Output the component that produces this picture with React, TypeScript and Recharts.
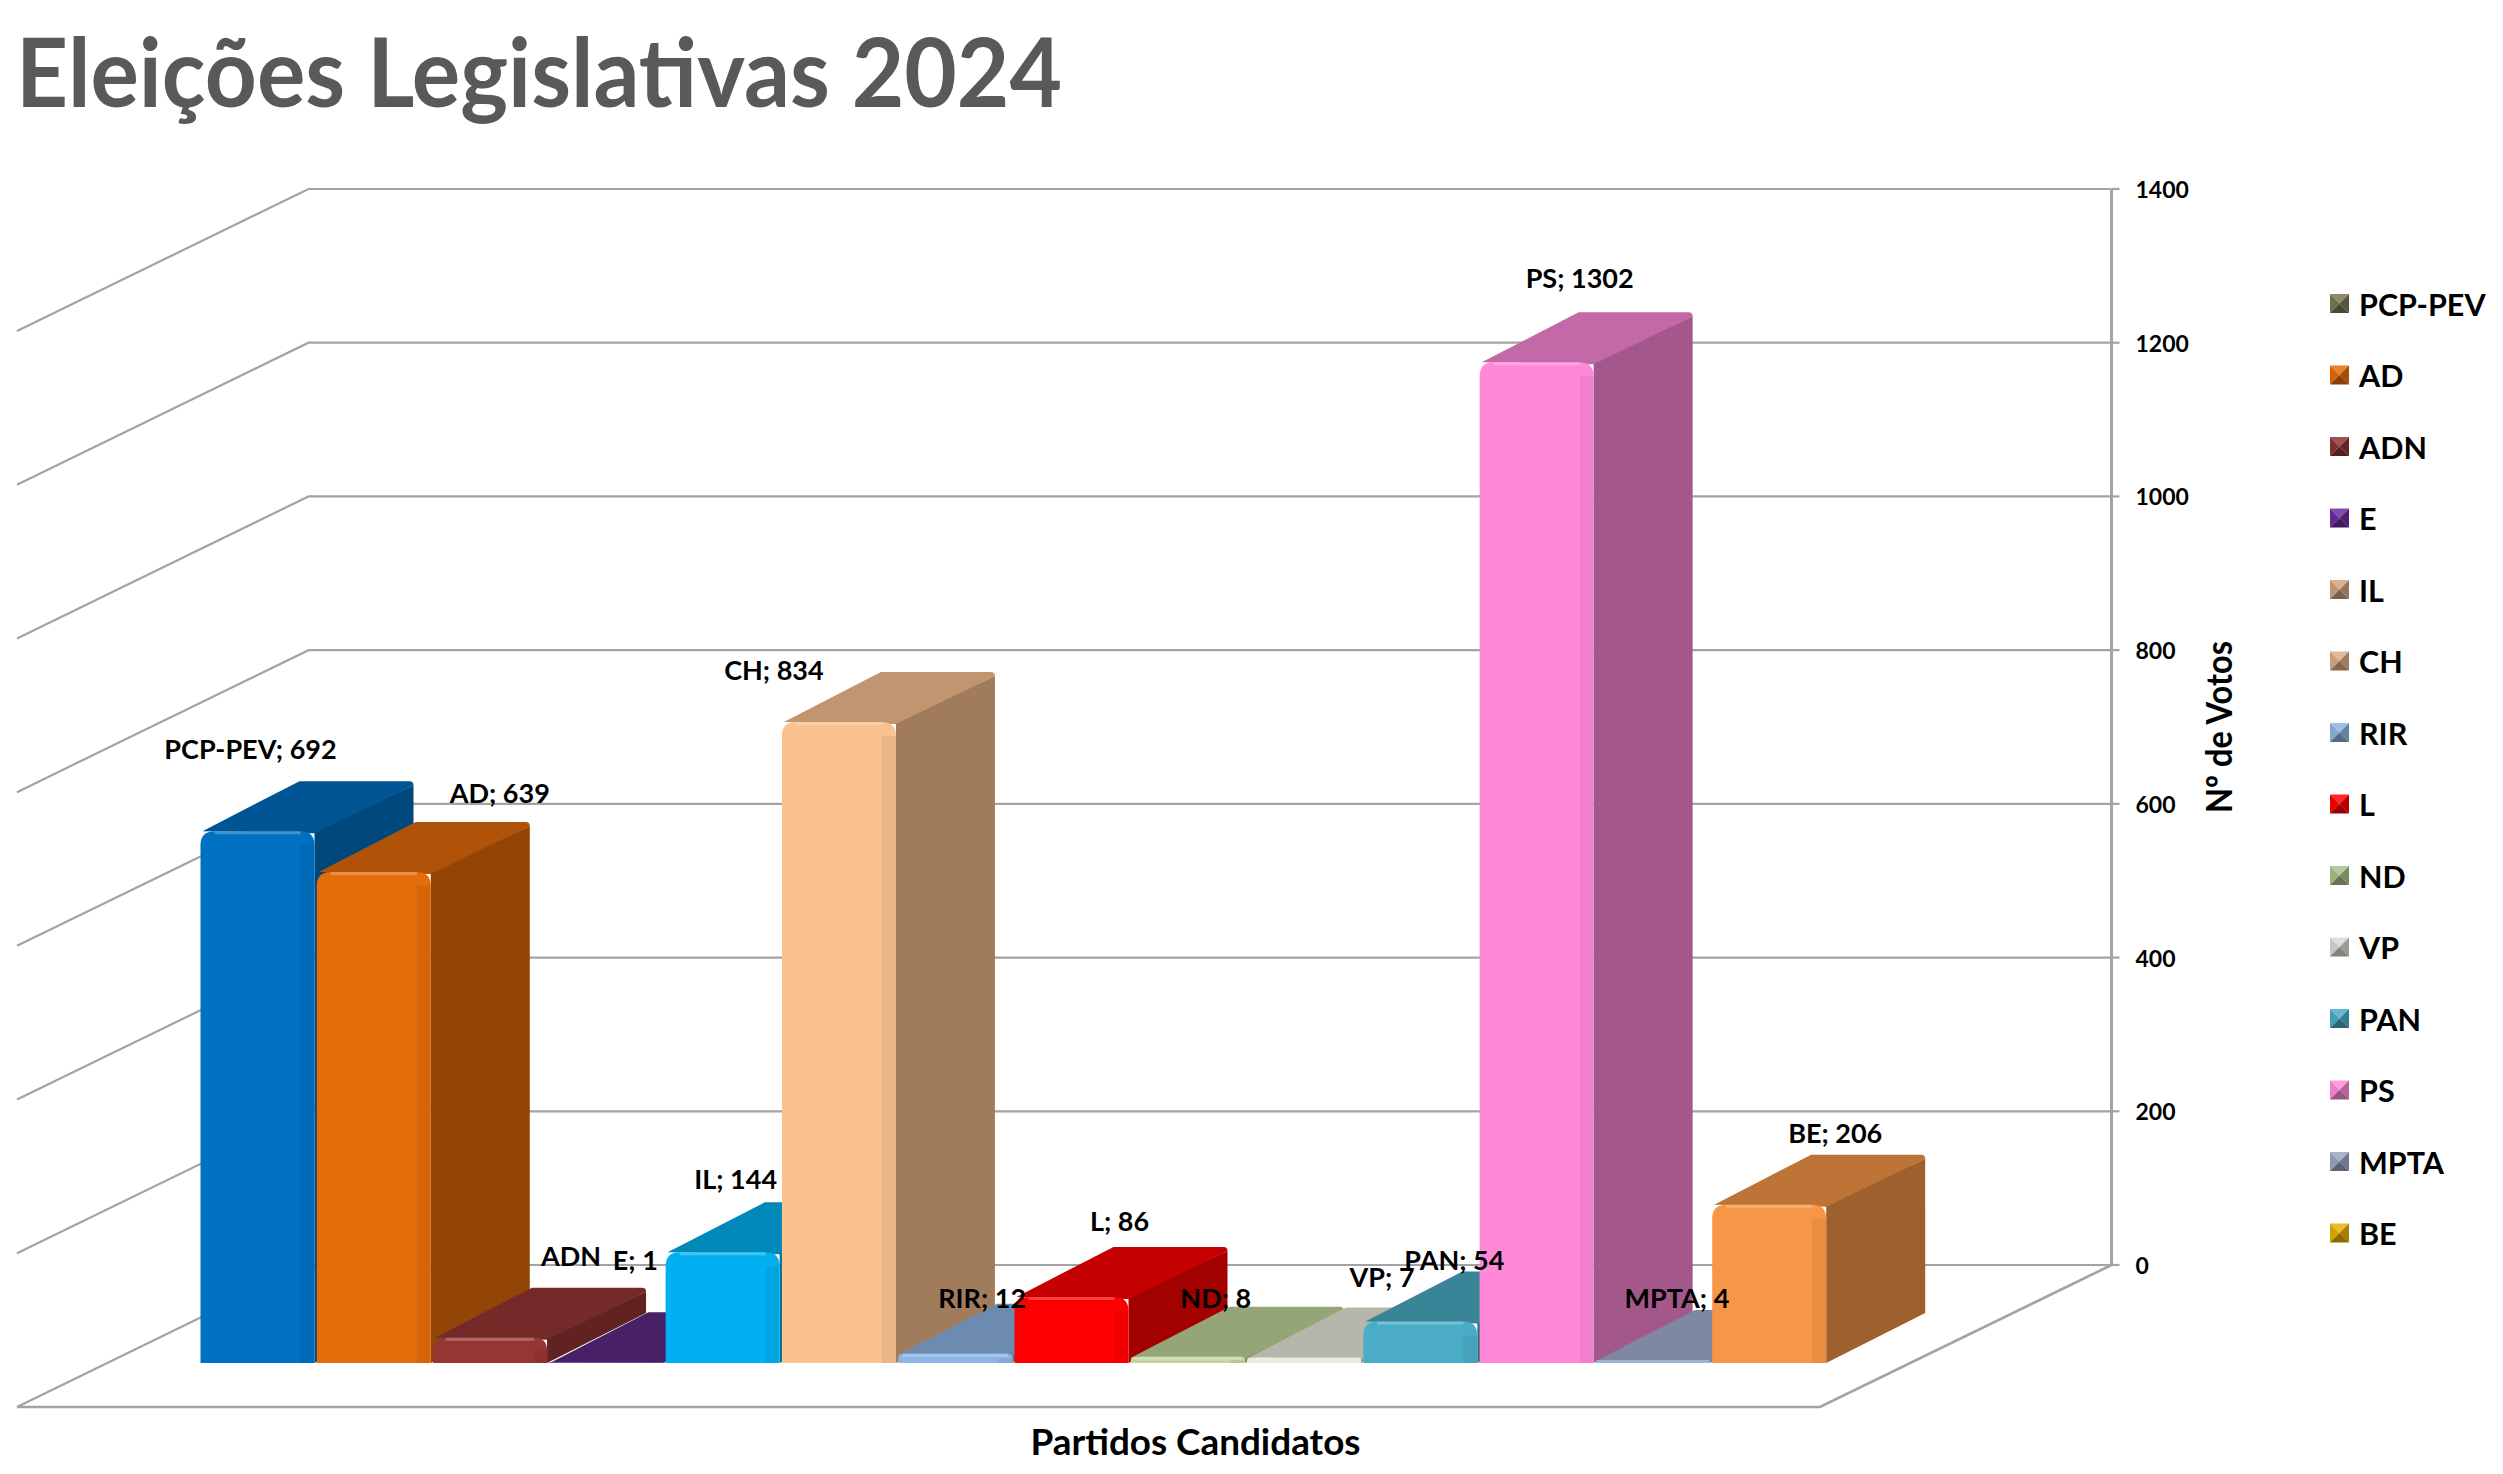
import React from 'react';
import { BarChart, Bar, XAxis, YAxis, CartesianGrid, Legend, LabelList } from 'recharts';

// ---------- data ----------
const parties = ['PCP-PEV', 'AD', 'ADN', 'E', 'IL', 'CH', 'RIR', 'L', 'ND', 'VP', 'PAN', 'PS', 'MPTA', 'BE'];
const votes = [692, 639, 33, 1, 144, 834, 12, 86, 8, 7, 54, 1302, 4, 206];
const labelShowsValue = [true, true, false, true, true, true, true, true, true, true, true, true, true, true];
const yTicks = [0, 200, 400, 600, 800, 1000, 1200, 1400];
const chartTitle = 'Eleições Legislativas 2024';
const xTitle = 'Partidos Candidatos';
const yTitle = 'Nº de Votos';

// ---------- styles ----------
const barColors = ['#0070C2', '#E46C0A', '#963634', '#5C2A84', '#00B0F0', '#FAC191', '#8DB4E2', '#FF0000', '#C3D69B', '#EEECE1', '#4BACC6', '#FF88D9', '#A3B1D1', '#F79646'];
const legendColors = ['#7A7850', '#E46C0A', '#8C3434', '#6A2D9C', '#CFA27E', '#DDAA84', '#8DB4E2', '#FF0000', '#A9C08A', '#D9D9D2', '#4BACC6', '#FF88D9', '#98A6C4', '#E6B000'];
// label nudges relative to the top-centre of each bar's front face (px)
const labelOffsets: [number, number][] = [
  [-7, -83], [126, -79], [81, -82], [29, -103], [13, -74], [-65, -53], [27, -56],
  [48, -76], [28, -59], [78, -81], [34, -62], [43, -85], [24, -62], [66, -72],
];

const W = 2503;
const H = 1474;
const PLOT_LEFT = 112;
const PLOT_RIGHT = 1915;
const PLOT_TOP = 287;
const PLOT_BOTTOM = 1363;
const Y_AXIS_W = 100;
const X_AXIS_H = 60;
const BACK = { dx: 196.5, dy: -98 }; // back wall relative to bar front plane
const FRONT = { dx: -95, dy: 44 }; // floor front edge relative to bar front plane
const BAR_DEPTH = { dx: 99, dy: -50 };
const GRID_COLOR = '#A3A3A3';
const FONT = 'Lato, "Noto Sans", "DejaVu Sans", sans-serif';

const data = parties.map((party, i) => ({ party, votes: votes[i] }));

const shade = (hex: string, k: number) => {
  const n = parseInt(hex.slice(1), 16);
  const f = (v: number) => {
    const c = k <= 1 ? v * k : v + (255 - v) * (k - 1);
    return Math.max(0, Math.min(255, Math.round(c))).toString(16).padStart(2, '0');
  };
  return `#${f((n >> 16) & 255)}${f((n >> 8) & 255)}${f(n & 255)}`;
};

const idxOf = (props: any) => {
  if (typeof props.index === 'number') return props.index;
  const p = props.payload?.party ?? props.party;
  return Math.max(0, parties.indexOf(p));
};

const Bar3D = (props: any) => {
  const { x, y, width, height } = props;
  const i = idxOf(props);
  const c = barColors[i];
  const h = Math.max(0, height);
  const w = width;
  const { dx, dy } = BAR_DEPTH;
  const r = Math.min(14, h / 2);
  const front = `M${x},${y + h} L${x},${y + r} Q${x},${y} ${x + r},${y} L${x + w - r},${y} Q${x + w},${y} ${x + w},${y + r} L${x + w},${y + h} Z`;
  const top = `M${x + 2},${y} L${x + dx},${y + dy} L${x + w + dx - 4},${y + dy} Q${x + w + dx},${y + dy} ${x + w + dx},${y + dy + 4} L${x + w},${y + Math.min(r, 2)} Z`;
  const side = `M${x + w},${y} L${x + w + dx},${y + dy + 4} L${x + w + dx},${y + h + dy} L${x + w},${y + h} Z`;
  return (
    <g>
      <path d={side} fill={shade(c, 0.64)} />
      <path d={top} fill={shade(c, 0.77)} />
      <path d={front} fill={c} />
      {h > 6 && <rect x={x + w - 14} y={y + r} width={14} height={Math.max(0, h - r)} fill="#000" opacity={0.06} />}
      {h > 6 && <path d={`M${x + r},${y + 1.5} L${x + w - r},${y + 1.5}`} stroke="#fff" strokeOpacity={0.25} strokeWidth={3} />}
    </g>
  );
};

const BarLabel = (props: any) => {
  const { x, y, width, value } = props;
  let i = typeof props.index === 'number' ? props.index : votes.indexOf(value);
  if (i < 0) i = 0;
  const [ox, oy] = labelOffsets[i];
  const text = labelShowsValue[i] ? `${parties[i]}; ${value}` : parties[i];
  return (
    <text x={x + width / 2 + ox} y={y + oy} textAnchor="middle" dominantBaseline="central"
      fontFamily={FONT} fontWeight={700} fontSize={27} fill="#000">{text}</text>
  );
};

const GridLine = (props: any) => {
  const { x1, x2, y1, index } = props;
  const top = typeof props.y === 'number' ? props.y : PLOT_TOP;
  const bottom = typeof props.height === 'number' ? top + props.height : PLOT_BOTTOM;
  const d = `M${x1 + FRONT.dx},${y1 + FRONT.dy} L${x1 + BACK.dx},${y1 + BACK.dy} L${x2 + BACK.dx},${y1 + BACK.dy}`;
  return (
    <g key={`gl-${index}`}>
      <path d={d} fill="none" stroke={GRID_COLOR} strokeWidth={2.2} />
      {Math.abs(y1 - bottom) < 0.5 && (
        <path d={`M${x1 + FRONT.dx},${y1 + FRONT.dy} L${x2 + FRONT.dx},${y1 + FRONT.dy} L${x2 + BACK.dx},${y1 + BACK.dy}`}
          fill="none" stroke={GRID_COLOR} strokeWidth={2.6} />
      )}
      {Math.abs(y1 - top) < 0.5 && (
        <path d={`M${x2 + BACK.dx},${y1 + BACK.dy} L${x2 + BACK.dx},${bottom + BACK.dy}`}
          fill="none" stroke={GRID_COLOR} strokeWidth={3} />
      )}
    </g>
  );
};

const YTick = (props: any) => {
  const { x, y, payload } = props;
  const bx = x + BACK.dx;
  const by = y + BACK.dy;
  return (
    <g>
      <line x1={bx} y1={by} x2={bx + 8} y2={by} stroke={GRID_COLOR} strokeWidth={2.2} />
      <text x={bx + 24} y={by} dominantBaseline="central" fontFamily={FONT} fontWeight={700} fontSize={23} fill="#000">
        {payload.value}
      </text>
    </g>
  );
};

const XTitle = (props: any) => {
  const vb = props.viewBox || { x: PLOT_LEFT, y: PLOT_BOTTOM, width: PLOT_RIGHT - PLOT_LEFT, height: X_AXIS_H };
  const cx = vb.x + vb.width / 2 + 182;
  const cy = vb.y + 77;
  return (
    <text x={cx} y={cy} textAnchor="middle" dominantBaseline="central" fontFamily={FONT} fontWeight={700}
      fontSize={37} fill="#000" textLength={330} lengthAdjust="spacingAndGlyphs">{xTitle}</text>
  );
};

const YTitle = (props: any) => {
  const vb = props.viewBox || { x: PLOT_RIGHT, y: PLOT_TOP, width: Y_AXIS_W, height: PLOT_BOTTOM - PLOT_TOP };
  const cx = vb.x + 303;
  const cy = vb.y + vb.height / 2 + BACK.dy;
  return (
    <text x={cx} y={cy} transform={`rotate(-90 ${cx} ${cy})`} textAnchor="middle" dominantBaseline="central"
      fontFamily={FONT} fontWeight={700} fontSize={36} fill="#000" textLength={172} lengthAdjust="spacingAndGlyphs">{yTitle}</text>
  );
};

const LegendIcon = ({ x, y, s, c }: { x: number; y: number; s: number; c: string }) => {
  const cx = x + s / 2;
  const cy = y + s / 2;
  return (
    <g>
      <polygon points={`${x},${y} ${x + s},${y} ${cx},${cy}`} fill={shade(c, 1.15)} />
      <polygon points={`${x},${y} ${cx},${cy} ${x},${y + s}`} fill={shade(c, 0.92)} />
      <polygon points={`${x + s},${y} ${x + s},${y + s} ${cx},${cy}`} fill={shade(c, 0.72)} />
      <polygon points={`${x},${y + s} ${cx},${cy} ${x + s},${y + s}`} fill={shade(c, 0.6)} />
    </g>
  );
};

const LegendContent = () => (
  <svg width={183} height={1000} style={{ overflow: 'visible', display: 'block' }}>
    {parties.map((p, i) => {
      const cy = 23.5 + i * 71.5;
      return (
        <g key={p}>
          <LegendIcon x={10} y={cy - 9.5} s={19} c={legendColors[i]} />
          <text x={39} y={cy} dominantBaseline="central" fontFamily={FONT} fontWeight={700} fontSize={30.5} fill="#000">{p}</text>
        </g>
      );
    })}
  </svg>
);

export default function App() {
  return (
    <div style={{ position: 'relative', width: W, height: H, background: '#fff', overflow: 'hidden' }}>
      <style>{`body{margin:0;background:#fff;}`}</style>
      <BarChart
        width={W}
        height={H}
        data={data}
        margin={{ top: PLOT_TOP, left: PLOT_LEFT, right: W - PLOT_RIGHT - Y_AXIS_W, bottom: H - PLOT_BOTTOM - X_AXIS_H }}
        barCategoryGap={1}
      >
        <CartesianGrid vertical={false} horizontal={GridLine as any} />
        <XAxis dataKey="party" tick={false} tickLine={false} axisLine={false} height={X_AXIS_H}
          padding={{ left: 87.5, right: 87.5 }} label={{ content: XTitle as any }} />
        <YAxis orientation="right" domain={[0, 1400]} ticks={yTicks} width={Y_AXIS_W} tick={YTick as any}
          tickLine={false} axisLine={false} tickSize={0} tickMargin={0} interval={0} allowDataOverflow
          label={{ content: YTitle as any }} />
        <Legend layout="vertical" align="center" verticalAlign="middle" content={LegendContent as any}
          wrapperStyle={{ position: 'absolute', left: 2320, top: 280, width: 183, height: 1000 }} />
        <Bar dataKey="votes" shape={Bar3D as any} isAnimationActive={false}>
          <LabelList dataKey="votes" content={BarLabel as any} />
        </Bar>
      </BarChart>
      <svg width={W} height={150} style={{ position: 'absolute', left: 0, top: 0, pointerEvents: 'none' }}>
        <text x={16} y={107} fontFamily={FONT} fontWeight={700} fontSize={96} fill="#595959"
          textLength={1046} lengthAdjust="spacingAndGlyphs">{chartTitle}</text>
      </svg>
    </div>
  );
}
